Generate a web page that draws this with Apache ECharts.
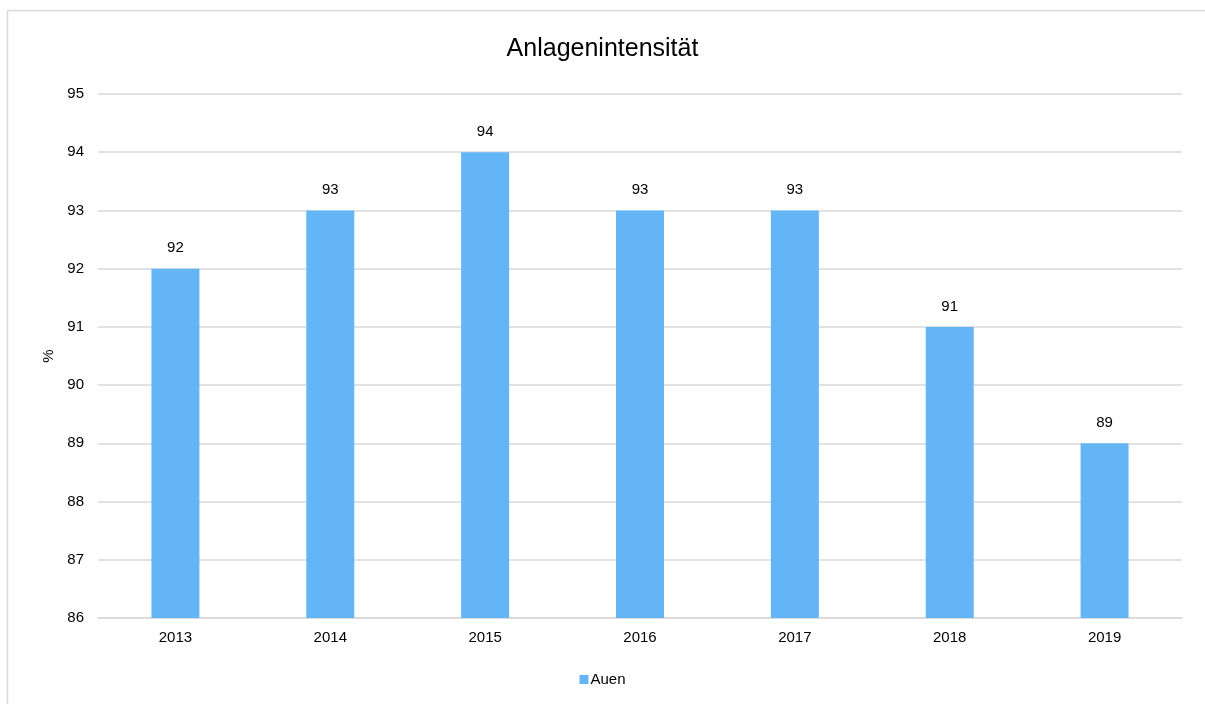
<!DOCTYPE html>
<html><head><meta charset="utf-8">
<script src="https://cdn.jsdelivr.net/npm/echarts@6/dist/echarts.min.js"></script>
<style>html,body{margin:0;padding:0;background:#fff;}#c{width:1205px;height:704px;}</style>
</head><body><div id="c"></div>
<script>
const categories = ['2013','2014','2015','2016','2017','2018','2019'];
const values = [92, 93, 94, 93, 93, 91, 89];
const seriesName = 'Auen';
const titleText = 'Anlagenintensität';
const yMin = 86, yMax = 95, yStep = 1;

const chart = echarts.init(document.getElementById('c'), null, {renderer:'canvas'});
const font = '"Liberation Sans", Arial, sans-serif';
chart.setOption({
  animation:false,
  textStyle:{fontFamily:font},
  graphic:[{type:'rect',shape:{x:7.5,y:10.5,width:1400,height:900},style:{fill:'none',stroke:'#d9d9d9',lineWidth:1.5},silent:true}],
  title:{text:titleText,left:'center',top:32,textStyle:{fontSize:25,fontWeight:'normal',color:'#000',fontFamily:font}},
  legend:{bottom:17,left:'center',padding:0,itemWidth:9,itemHeight:9,itemGap:5,icon:'rect',textStyle:{fontSize:15,color:'#000',fontFamily:font,padding:[0,0,0,-3]},data:[seriesName]},
  grid:{left:98,right:23,top:94,bottom:86,containLabel:false},
  xAxis:{type:'category',data:categories,axisLine:{lineStyle:{color:'#d9d9d9',width:1.5}},axisTick:{show:false},
    axisLabel:{fontSize:15,color:'#000',margin:12,fontFamily:font}},
  yAxis:{type:'value',min:yMin,max:yMax,interval:yStep,name:'%',nameLocation:'middle',nameGap:41,nameRotate:90,
    nameTextStyle:{fontSize:15,color:'#000',fontFamily:font},
    axisLine:{show:false},axisTick:{show:false},splitLine:{lineStyle:{color:'#d9d9d9',width:1.5}},
    axisLabel:{fontSize:15,color:'#000',margin:14,fontFamily:font}},
  series:[{name:seriesName,type:'bar',data:values,barWidth:48,itemStyle:{color:'#64b5f6'},
    label:{show:true,position:'top',distance:13,fontSize:15,color:'#000',fontFamily:font}}]
});
</script></body></html>
